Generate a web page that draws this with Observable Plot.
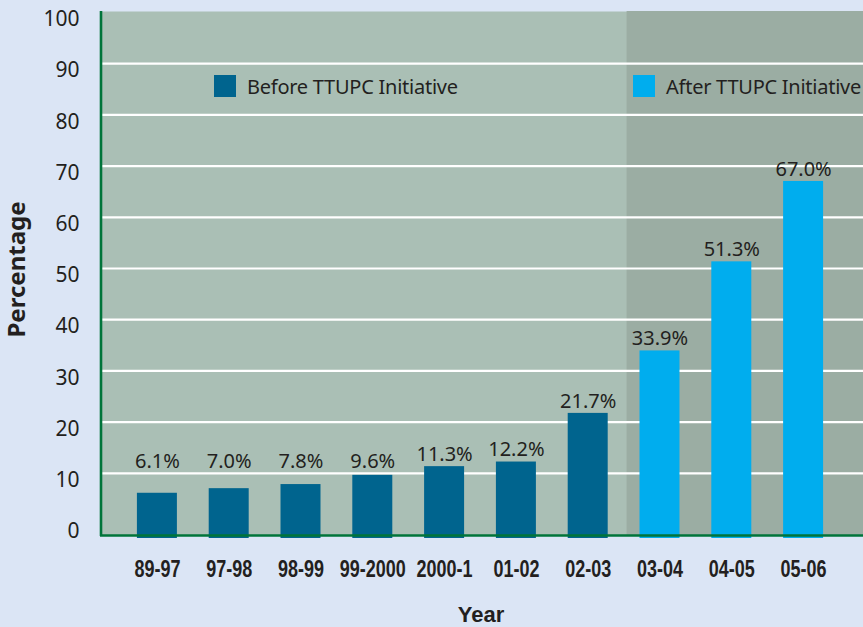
<!DOCTYPE html>
<html>
<head>
<meta charset="utf-8">
<script src="https://cdn.jsdelivr.net/npm/d3@7"></script>
<script src="https://cdn.jsdelivr.net/npm/@observablehq/plot@0.6"></script>
<style>
  html, body { margin: 0; padding: 0; background: #dbe5f5; }
  #wrap { position: relative; width: 863px; height: 627px; overflow: hidden; background: #dbe5f5; }
  .leg { position: absolute; top: 75px; height: 22px; display: flex; align-items: center;
         font-family: "Noto Sans", "Open Sans", sans-serif; font-size: 20px; color: #231f20; white-space: nowrap; letter-spacing: -0.25px; }
  .leg .sw { width: 22px; height: 22px; margin-right: 11px; flex: none; }
</style>
</head>
<body>
<div id="wrap"></div>
<script>
// ---- data ----
const years = ["89-97", "97-98", "98-99", "99-2000", "2000-1", "01-02", "02-03", "03-04", "04-05", "05-06"];
const percentages = [6.1, 7.0, 7.8, 9.6, 11.3, 12.2, 21.7, 33.9, 51.3, 67.0];
const phases = ["Before", "Before", "Before", "Before", "Before", "Before", "Before", "After", "After", "After"];
const yTicks = [0, 10, 20, 30, 40, 50, 60, 70, 80, 90, 100];
const gridValues = [10, 20, 30, 40, 50, 60, 70, 80, 90];
const legendLabels = ["Before TTUPC Initiative", "After TTUPC Initiative"];
const yTitle = "Percentage";
const xTitle = "Year";

// ---- styles ----
const C = {
  page: "#dbe5f5", before: "#aabfb5", after: "#9badA3",
  barBefore: "#00648e", barAfter: "#00adee", green: "#00743a", text: "#231f20"
};
const boldFont = '"Liberation Sans", Arial, sans-serif';

const data = years.map((y, i) => ({year: y, value: percentages[i], phase: phases[i]}));
const firstAfter = data.find(d => d.phase === "After").year;

// shaded "after" region, drawn through the x band scale
function afterRegion(index, scales, values, dimensions) {
  const sx = scales.x;
  const bw = typeof sx.bandwidth === "function" ? sx.bandwidth() : 40;
  const step = typeof sx.step === "function" ? sx.step() : 71.8;
  const x0 = sx(firstAfter) - (step - bw) / 2 + 3;
  const {width, height, marginTop, marginBottom} = dimensions;
  const g = d3.create("svg:g");
  g.append("rect")
    .attr("x", x0).attr("y", marginTop)
    .attr("width", width - x0).attr("height", height - marginTop - marginBottom)
    .attr("fill", C.after);
  return g.node();
}
function leftAxisLine(index, scales, values, dimensions) {
  const {height, marginTop, marginBottom, marginLeft} = dimensions;
  const g = d3.create("svg:g");
  g.append("line")
    .attr("x1", marginLeft + 1).attr("x2", marginLeft + 1)
    .attr("y1", marginTop).attr("y2", height - marginBottom + 1)
    .attr("stroke", C.green).attr("stroke-width", 2.6);
  return g.node();
}

const chart = Plot.plot({
  width: 863,
  height: 627,
  marginTop: 11,
  marginBottom: 92,
  marginLeft: 100,
  marginRight: 0,
  style: {background: C.page, color: C.text, fontFamily: '"Noto Sans", "Open Sans", sans-serif', overflow: "visible"},
  x: {domain: years, range: [121, 839], paddingInner: 0.443, paddingOuter: 0.2215, round: false, label: null},
  y: {domain: [0, 100], range: [524, 12], label: null},
  color: {domain: ["Before", "After"], range: [C.barBefore, C.barAfter]},
  marks: [
    Plot.frame({fill: C.before, stroke: null}),
    afterRegion,
    Plot.ruleY(gridValues, {stroke: "white", strokeWidth: 2.2}),
    Plot.barY(data, {x: "year", y1: 0, y2: "value", fill: "phase", insetBottom: -14}),
    Plot.ruleY([0], {stroke: C.green, strokeWidth: 2.6, dy: 11}),
    leftAxisLine,
    Plot.axisY({ticks: yTicks, tickSize: 0, tickPadding: 21, fontSize: 21, dy: 7, label: null, tickFormat: d => String(d)}),
    Plot.axisX({tickSize: 0, tickPadding: 24, fontSize: 24, fontWeight: "bold", fontFamily: boldFont, label: null}),
    Plot.text(data, {x: "year", y: d => Math.max(d.value, 10), text: d => d.value.toFixed(1) + "%", dy: -12, fontSize: 20, fill: C.text}),
    Plot.text([yTitle], {frameAnchor: "left", textAnchor: "middle", dx: -83, dy: -4, rotate: -90, fontSize: 24, fontWeight: "bold", fill: C.text}),
    Plot.text([xTitle], {frameAnchor: "bottom", textAnchor: "middle", dx: -1, dy: 86, fontSize: 22, fontWeight: "bold", fontFamily: boldFont, fill: C.text})
  ]
});

const wrap = document.getElementById("wrap");
wrap.appendChild(chart);

// condense the bold x tick labels horizontally (reference uses a condensed face)
const condense = 0.75;
chart.querySelectorAll('g[aria-label="x-axis tick label"] text').forEach(t => {
  const tr = t.getAttribute("transform");
  if (tr && !t.hasAttribute("x")) {
    t.setAttribute("transform", tr + ` scale(${condense},1)`);
  } else {
    const len = t.getComputedTextLength();
    if (len > 0) {
      t.setAttribute("textLength", (len * condense).toFixed(1));
      t.setAttribute("lengthAdjust", "spacingAndGlyphs");
    }
  }
});

// legend overlay
const legendPos = [214, 633];
const legendColors = [C.barBefore, C.barAfter];
legendLabels.forEach((lab, i) => {
  const item = document.createElement("div");
  item.className = "leg";
  item.style.left = legendPos[i] + "px";
  const sw = document.createElement("span");
  sw.className = "sw";
  sw.style.background = legendColors[i];
  const t = document.createElement("span");
  t.textContent = lab;
  item.appendChild(sw);
  item.appendChild(t);
  wrap.appendChild(item);
});
</script>
</body>
</html>
